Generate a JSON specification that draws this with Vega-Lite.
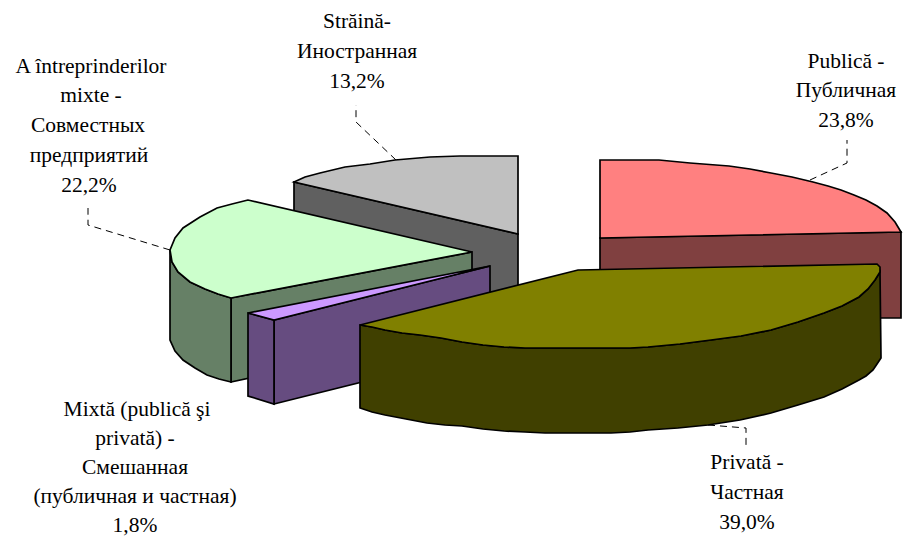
{"$schema":"https://vega.github.io/schema/vega-lite/v6.json","width":905,"height":538,"padding":0,"autosize":{"type":"fit","contains":"padding"},"background":"white","config":{"view":{"stroke":null}},
"datasets":{"shapes":[
{"p":"redSide","i":0,"x":600,"y":238},{"p":"redSide","i":1,"x":901,"y":232},{"p":"redSide","i":2,"x":901,"y":318},{"p":"redSide","i":3,"x":600,"y":318},
{"p":"redTop","i":0,"x":600,"y":160},{"p":"redTop","i":1,"x":659,"y":160},{"p":"redTop","i":2,"x":690,"y":163},{"p":"redTop","i":3,"x":729,"y":166},{"p":"redTop","i":4,"x":750,"y":169},{"p":"redTop","i":5,"x":771,"y":173},{"p":"redTop","i":6,"x":792,"y":177},{"p":"redTop","i":7,"x":813,"y":182},{"p":"redTop","i":8,"x":828,"y":186},{"p":"redTop","i":9,"x":841,"y":190},{"p":"redTop","i":10,"x":854,"y":195},{"p":"redTop","i":11,"x":866,"y":200},{"p":"redTop","i":12,"x":877,"y":206},{"p":"redTop","i":13,"x":887,"y":213},{"p":"redTop","i":14,"x":895,"y":222},{"p":"redTop","i":15,"x":901,"y":232},{"p":"redTop","i":16,"x":600,"y":238},
{"p":"grayTop","i":0,"x":294,"y":182},{"p":"grayTop","i":1,"x":305,"y":177},{"p":"grayTop","i":2,"x":320,"y":173},{"p":"grayTop","i":3,"x":345,"y":167},{"p":"grayTop","i":4,"x":370,"y":164},{"p":"grayTop","i":5,"x":395,"y":160},{"p":"grayTop","i":6,"x":430,"y":157},{"p":"grayTop","i":7,"x":460,"y":156},{"p":"grayTop","i":8,"x":518,"y":156},{"p":"grayTop","i":9,"x":518,"y":234},
{"p":"graySide","i":0,"x":294,"y":182},{"p":"graySide","i":1,"x":518,"y":234},{"p":"graySide","i":2,"x":518,"y":300},{"p":"graySide","i":3,"x":294,"y":260},
{"p":"greenInner","i":0,"x":231,"y":298},{"p":"greenInner","i":1,"x":472,"y":252},{"p":"greenInner","i":2,"x":472,"y":330},{"p":"greenInner","i":3,"x":231,"y":382},
{"p":"greenOuter","i":0,"x":170,"y":250},{"p":"greenOuter","i":1,"x":172,"y":262},{"p":"greenOuter","i":2,"x":178,"y":272},{"p":"greenOuter","i":3,"x":190,"y":282},{"p":"greenOuter","i":4,"x":205,"y":289},{"p":"greenOuter","i":5,"x":218,"y":294},{"p":"greenOuter","i":6,"x":231,"y":298},{"p":"greenOuter","i":7,"x":231,"y":382},{"p":"greenOuter","i":8,"x":219,"y":379},{"p":"greenOuter","i":9,"x":207,"y":375},{"p":"greenOuter","i":10,"x":195,"y":368},{"p":"greenOuter","i":11,"x":183,"y":360},{"p":"greenOuter","i":12,"x":175,"y":351},{"p":"greenOuter","i":13,"x":170,"y":340},
{"p":"greenTop","i":0,"x":248,"y":200},{"p":"greenTop","i":1,"x":232,"y":204},{"p":"greenTop","i":2,"x":217,"y":208},{"p":"greenTop","i":3,"x":200,"y":217},{"p":"greenTop","i":4,"x":183,"y":228},{"p":"greenTop","i":5,"x":175,"y":238},{"p":"greenTop","i":6,"x":170,"y":250},{"p":"greenTop","i":7,"x":172,"y":262},{"p":"greenTop","i":8,"x":178,"y":272},{"p":"greenTop","i":9,"x":190,"y":282},{"p":"greenTop","i":10,"x":205,"y":289},{"p":"greenTop","i":11,"x":218,"y":294},{"p":"greenTop","i":12,"x":231,"y":298},{"p":"greenTop","i":13,"x":472,"y":252},
{"p":"purpleLeft","i":0,"x":248,"y":313},{"p":"purpleLeft","i":1,"x":274,"y":320},{"p":"purpleLeft","i":2,"x":274,"y":404},{"p":"purpleLeft","i":3,"x":248,"y":396},
{"p":"purpleRight","i":0,"x":274,"y":320},{"p":"purpleRight","i":1,"x":490,"y":266},{"p":"purpleRight","i":2,"x":490,"y":350},{"p":"purpleRight","i":3,"x":274,"y":404},
{"p":"purpleTop","i":0,"x":248,"y":313},{"p":"purpleTop","i":1,"x":490,"y":266},{"p":"purpleTop","i":2,"x":274,"y":320},
{"p":"oliveSide","i":0,"x":360,"y":325},{"p":"oliveSide","i":1,"x":372,"y":327},{"p":"oliveSide","i":2,"x":385,"y":330},{"p":"oliveSide","i":3,"x":402,"y":333},{"p":"oliveSide","i":4,"x":420,"y":335},{"p":"oliveSide","i":5,"x":441,"y":338},{"p":"oliveSide","i":6,"x":462,"y":342},{"p":"oliveSide","i":7,"x":483,"y":345},{"p":"oliveSide","i":8,"x":504,"y":347},{"p":"oliveSide","i":9,"x":525,"y":348},{"p":"oliveSide","i":10,"x":545,"y":348},{"p":"oliveSide","i":11,"x":611,"y":348},{"p":"oliveSide","i":12,"x":630,"y":348},{"p":"oliveSide","i":13,"x":648,"y":347},{"p":"oliveSide","i":14,"x":680,"y":344},{"p":"oliveSide","i":15,"x":711,"y":340},{"p":"oliveSide","i":16,"x":741,"y":336},{"p":"oliveSide","i":17,"x":771,"y":330},{"p":"oliveSide","i":18,"x":798,"y":322},{"p":"oliveSide","i":19,"x":824,"y":313},{"p":"oliveSide","i":20,"x":842,"y":306},{"p":"oliveSide","i":21,"x":859,"y":297},{"p":"oliveSide","i":22,"x":868,"y":289},{"p":"oliveSide","i":23,"x":875,"y":280},{"p":"oliveSide","i":24,"x":880,"y":272},{"p":"oliveSide","i":25,"x":881,"y":358},{"p":"oliveSide","i":26,"x":877,"y":364},{"p":"oliveSide","i":27,"x":873,"y":370},{"p":"oliveSide","i":28,"x":866,"y":376},{"p":"oliveSide","i":29,"x":859,"y":380},{"p":"oliveSide","i":30,"x":842,"y":389},{"p":"oliveSide","i":31,"x":824,"y":397},{"p":"oliveSide","i":32,"x":798,"y":405},{"p":"oliveSide","i":33,"x":771,"y":413},{"p":"oliveSide","i":34,"x":740,"y":420},{"p":"oliveSide","i":35,"x":708,"y":425},{"p":"oliveSide","i":36,"x":678,"y":428},{"p":"oliveSide","i":37,"x":648,"y":430},{"p":"oliveSide","i":38,"x":630,"y":432},{"p":"oliveSide","i":39,"x":611,"y":433},{"p":"oliveSide","i":40,"x":545,"y":433},{"p":"oliveSide","i":41,"x":525,"y":432},{"p":"oliveSide","i":42,"x":504,"y":431},{"p":"oliveSide","i":43,"x":483,"y":429},{"p":"oliveSide","i":44,"x":462,"y":426},{"p":"oliveSide","i":45,"x":445,"y":425},{"p":"oliveSide","i":46,"x":427,"y":423},{"p":"oliveSide","i":47,"x":406,"y":419},{"p":"oliveSide","i":48,"x":385,"y":415},{"p":"oliveSide","i":49,"x":372,"y":412},{"p":"oliveSide","i":50,"x":360,"y":408},
{"p":"oliveTop","i":0,"x":360,"y":325},{"p":"oliveTop","i":1,"x":578,"y":270},{"p":"oliveTop","i":2,"x":877,"y":264},{"p":"oliveTop","i":3,"x":880,"y":267},{"p":"oliveTop","i":4,"x":880,"y":272},{"p":"oliveTop","i":5,"x":875,"y":280},{"p":"oliveTop","i":6,"x":868,"y":289},{"p":"oliveTop","i":7,"x":859,"y":297},{"p":"oliveTop","i":8,"x":842,"y":306},{"p":"oliveTop","i":9,"x":824,"y":313},{"p":"oliveTop","i":10,"x":798,"y":322},{"p":"oliveTop","i":11,"x":771,"y":330},{"p":"oliveTop","i":12,"x":741,"y":336},{"p":"oliveTop","i":13,"x":711,"y":340},{"p":"oliveTop","i":14,"x":680,"y":344},{"p":"oliveTop","i":15,"x":648,"y":347},{"p":"oliveTop","i":16,"x":630,"y":348},{"p":"oliveTop","i":17,"x":611,"y":348},{"p":"oliveTop","i":18,"x":545,"y":348},{"p":"oliveTop","i":19,"x":525,"y":348},{"p":"oliveTop","i":20,"x":504,"y":347},{"p":"oliveTop","i":21,"x":483,"y":345},{"p":"oliveTop","i":22,"x":462,"y":342},{"p":"oliveTop","i":23,"x":441,"y":338},{"p":"oliveTop","i":24,"x":420,"y":335},{"p":"oliveTop","i":25,"x":402,"y":333},{"p":"oliveTop","i":26,"x":385,"y":330},{"p":"oliveTop","i":27,"x":372,"y":327}
],
"leaders":[
{"l":"pub","i":0,"x":810,"y":180},{"l":"pub","i":1,"x":847,"y":163},{"l":"pub","i":2,"x":847,"y":140},
{"l":"str","i":0,"x":396,"y":160},{"l":"str","i":1,"x":356,"y":122},{"l":"str","i":2,"x":356,"y":105},
{"l":"mix","i":0,"x":170,"y":250},{"l":"mix","i":1,"x":88,"y":225},{"l":"mix","i":2,"x":88,"y":208},
{"l":"pri","i":0,"x":708,"y":425},{"l":"pri","i":1,"x":746,"y":428},{"l":"pri","i":2,"x":746,"y":446}
],
"labels":[
{"t":"Străină-","x":357,"y":22},{"t":"Иностранная","x":357,"y":52},{"t":"13,2%","x":357,"y":82},
{"t":"A întreprinderilor","x":91,"y":67},{"t":"mixte -","x":91,"y":96},{"t":"Совместных","x":88,"y":126},{"t":"предприятий","x":89,"y":156},{"t":"22,2%","x":89,"y":186},
{"t":"Publică -","x":846,"y":62},{"t":"Публичная","x":846,"y":91},{"t":"23,8%","x":846,"y":121},
{"t":"Privată -","x":747,"y":463},{"t":"Частная","x":747,"y":493},{"t":"39,0%","x":747,"y":523},
{"t":"Mixtă (publică şi","x":137,"y":410},{"t":"privată) -","x":135,"y":439},{"t":"Смешанная","x":135,"y":468},{"t":"(публичная и частная)","x":135,"y":497},{"t":"1,8%","x":135,"y":526}
]},
"encoding":{"x":{"field":"x","type":"quantitative","scale":{"domain":[0,905],"nice":false,"zero":false},"axis":null},"y":{"field":"y","type":"quantitative","scale":{"domain":[538,0],"nice":false,"zero":false},"axis":null}},
"layer":[
{"data":{"name":"leaders"},"mark":{"type":"line","stroke":"black","strokeWidth":1,"strokeDash":[7,5]},"encoding":{"detail":{"field":"l"},"order":{"field":"i"}}},
{"data":{"name":"shapes"},"transform":[{"filter":"datum.p=='redSide'"}],"mark":{"type":"line","interpolate":"linear-closed","fill":"#804040","stroke":"black","strokeWidth":1.7},"encoding":{"order":{"field":"i"}}},
{"data":{"name":"shapes"},"transform":[{"filter":"datum.p=='redTop'"}],"mark":{"type":"line","interpolate":"linear-closed","fill":"#FF8080","stroke":"black","strokeWidth":1.7},"encoding":{"order":{"field":"i"}}},
{"data":{"name":"shapes"},"transform":[{"filter":"datum.p=='graySide'"}],"mark":{"type":"line","interpolate":"linear-closed","fill":"#606060","stroke":"black","strokeWidth":1.7},"encoding":{"order":{"field":"i"}}},
{"data":{"name":"shapes"},"transform":[{"filter":"datum.p=='grayTop'"}],"mark":{"type":"line","interpolate":"linear-closed","fill":"#C0C0C0","stroke":"black","strokeWidth":1.7},"encoding":{"order":{"field":"i"}}},
{"data":{"name":"shapes"},"transform":[{"filter":"datum.p=='greenInner'"}],"mark":{"type":"line","interpolate":"linear-closed","fill":"#668066","stroke":"black","strokeWidth":1.7},"encoding":{"order":{"field":"i"}}},
{"data":{"name":"shapes"},"transform":[{"filter":"datum.p=='greenOuter'"}],"mark":{"type":"line","interpolate":"linear-closed","fill":"#668066","stroke":"black","strokeWidth":1.7},"encoding":{"order":{"field":"i"}}},
{"data":{"name":"shapes"},"transform":[{"filter":"datum.p=='greenTop'"}],"mark":{"type":"line","interpolate":"linear-closed","fill":"#CCFFCC","stroke":"black","strokeWidth":1.7},"encoding":{"order":{"field":"i"}}},
{"data":{"name":"shapes"},"transform":[{"filter":"datum.p=='purpleRight'"}],"mark":{"type":"line","interpolate":"linear-closed","fill":"#664C80","stroke":"black","strokeWidth":1.7},"encoding":{"order":{"field":"i"}}},
{"data":{"name":"shapes"},"transform":[{"filter":"datum.p=='purpleLeft'"}],"mark":{"type":"line","interpolate":"linear-closed","fill":"#664C80","stroke":"black","strokeWidth":1.7},"encoding":{"order":{"field":"i"}}},
{"data":{"name":"shapes"},"transform":[{"filter":"datum.p=='purpleTop'"}],"mark":{"type":"line","interpolate":"linear-closed","fill":"#CC99FF","stroke":"black","strokeWidth":1.7},"encoding":{"order":{"field":"i"}}},
{"data":{"name":"shapes"},"transform":[{"filter":"datum.p=='oliveSide'"}],"mark":{"type":"line","interpolate":"linear-closed","fill":"#404000","stroke":"black","strokeWidth":1.7},"encoding":{"order":{"field":"i"}}},
{"data":{"name":"shapes"},"transform":[{"filter":"datum.p=='oliveTop'"}],"mark":{"type":"line","interpolate":"linear-closed","fill":"#808000","stroke":"black","strokeWidth":1.7},"encoding":{"order":{"field":"i"}}},
{"data":{"name":"labels"},"mark":{"type":"text","font":"Liberation Serif","fontSize":21.5,"align":"center","baseline":"middle","color":"black"},"encoding":{"text":{"field":"t"}}}
]}
